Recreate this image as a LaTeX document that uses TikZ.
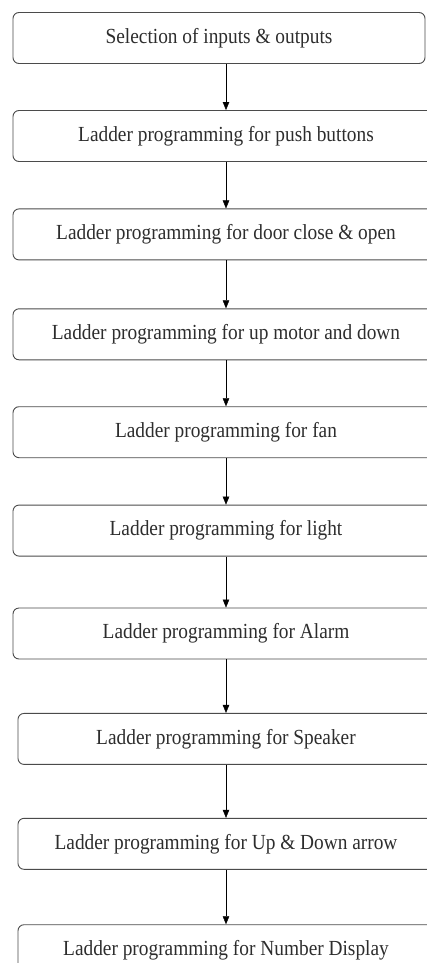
\documentclass[tikz,border=0pt]{standalone}
\usepackage{fontspec}
\setmainfont{Liberation Serif}
\newfontfamily\stepfont{Liberation Serif}[FakeStretch=0.9]
\usetikzlibrary{arrows.meta,positioning}
\definecolor{boxline}{RGB}{75,75,75}
\definecolor{steptext}{RGB}{45,45,45}

\begin{document}
\begin{tikzpicture}[x=1pt,y=1pt,>={Triangle[width=6.5pt,length=8pt]},
  font=\stepfont\fontsize{21.5}{24}\selectfont,
  stepbox/.style={draw=boxline,line width=0.9pt,rounded corners=6pt,minimum height=51pt,
    minimum width=426pt,text=steptext,inner sep=0pt}]
  \useasboundingbox (0,0) rectangle (427,-963);
  \clip (0,0) rectangle (427,-963);
  \node[stepbox,minimum width=412pt] (sel) at (219,-38) {Selection of inputs \& outputs};
  \node[stepbox] (push) at (226,-136) {Ladder programming for push buttons};
  \node[stepbox,below=46.5pt of push] (door) {Ladder programming for door close \& open};
  \node[stepbox,below=48pt of door] (motor) {Ladder programming for up motor and down};
  \node[stepbox,below=46pt of motor] (fan) {Ladder programming for fan};
  \node[stepbox,below=46.5pt of fan] (light) {Ladder programming for light};
  \node[stepbox,below=51pt of light] (alarm) {Ladder programming for Alarm};
  \node[stepbox,minimum width=416pt,below=53.5pt of alarm] (speaker) {Ladder programming for Speaker};
  \node[stepbox,minimum width=416pt,below=53pt of speaker] (arrow) {Ladder programming for Up \& Down arrow};
  \node[stepbox,minimum width=416pt,below=54.5pt of arrow] (display) {Ladder programming for Number Display};
  \draw[->] (sel.south -| push.north) -- (push.north);
  \draw[->] (push) -- (door);
  \draw[->] (door) -- (motor);
  \draw[->] (motor) -- (fan);
  \draw[->] (fan) -- (light);
  \draw[->] (light) -- (alarm);
  \draw[->] (alarm) -- (speaker);
  \draw[->] (speaker) -- (arrow);
  \draw[->] (arrow) -- (display);
\end{tikzpicture}
\end{document}
